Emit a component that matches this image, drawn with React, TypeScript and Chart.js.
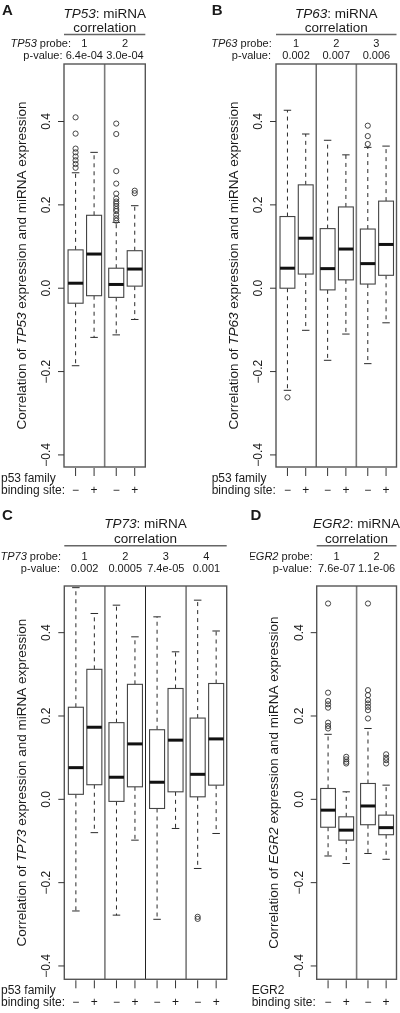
import React, { useEffect, useRef } from 'react';
import { Chart, registerables } from 'chart.js';

Chart.register(...registerables);

const FONT = '"Liberation Sans", Arial, Helvetica, sans-serif';
const TEXT = '#1a1a1a';

const sideLabels = ['\u2212', '+'];
const yTickValues = [-0.4, -0.2, 0, 0.2, 0.4];
const yTickLabels = ['\u22120.4', '\u22120.2', '0.0', '0.2', '0.4'];

// ---- Panel A: TP53 ----
const aProbes = ['1', '2'];
const aPValues = ['6.4e-04', '3.0e-04'];
const aLower = [-0.186, -0.118, -0.112, -0.075];
const aQ1 = [-0.036, -0.018, -0.022, 0.005];
const aMedian = [0.012, 0.082, 0.009, 0.046];
const aQ3 = [0.092, 0.175, 0.048, 0.09];
const aUpper = [0.277, 0.326, 0.158, 0.198];
const aOutliers = [
  [0.41, 0.371, 0.335, 0.326, 0.316, 0.307, 0.298, 0.289],
  [],
  [0.395, 0.37, 0.281, 0.251, 0.227, 0.215, 0.208, 0.203, 0.197, 0.19, 0.185, 0.176, 0.168, 0.162],
  [0.234, 0.228],
];

// ---- Panel B: TP63 ----
const bProbes = ['1', '2', '3'];
const bPValues = ['0.002', '0.007', '0.006'];
const bLower = [-0.245, -0.101, -0.173, -0.11, -0.181, -0.083];
const bQ1 = [0.0, 0.034, -0.004, 0.02, 0.01, 0.031];
const bMedian = [0.048, 0.12, 0.047, 0.094, 0.059, 0.105];
const bQ3 = [0.172, 0.248, 0.143, 0.195, 0.142, 0.209];
const bUpper = [0.427, 0.37, 0.355, 0.32, 0.338, 0.341];
const bOutliers = [[-0.262], [], [], [], [0.39, 0.365, 0.346], []];

// ---- Panel C: TP73 ----
const cProbes = ['1', '2', '3', '4'];
const cPValues = ['0.002', '0.0005', '7.4e-05', '0.001'];
const cLower = [-0.268, -0.08, -0.278, -0.098, -0.288, -0.07, -0.166, -0.082];
const cQ1 = [0.012, 0.035, -0.005, 0.03, -0.022, 0.018, 0.006, 0.034];
const cMedian = [0.076, 0.173, 0.053, 0.133, 0.041, 0.142, 0.06, 0.145];
const cQ3 = [0.221, 0.312, 0.184, 0.276, 0.167, 0.266, 0.195, 0.278];
const cUpper = [0.508, 0.446, 0.466, 0.39, 0.438, 0.354, 0.478, 0.404];
const cOutliers = [[], [], [], [], [], [], [-0.282, -0.287], []];

// ---- Panel D: EGR2 ----
const dProbes = ['1', '2'];
const dPValues = ['7.6e-07', '1.1e-06'];
const dLower = [-0.136, -0.154, -0.13, -0.144];
const dQ1 = [-0.067, -0.098, -0.061, -0.085];
const dMedian = [-0.026, -0.074, -0.016, -0.068];
const dQ3 = [0.026, -0.042, 0.038, -0.038];
const dUpper = [0.156, 0.018, 0.17, 0.034];
const dOutliers = [
  [0.47, 0.256, 0.236, 0.228, 0.22, 0.184, 0.176, 0.17],
  [0.102, 0.096, 0.09, 0.086],
  [0.47, 0.262, 0.25, 0.238, 0.23, 0.222, 0.214, 0.194],
  [0.108, 0.1, 0.094, 0.086],
];

const BOX_W = 0.37;
const boxPos = (i: number) => Math.floor(i / 2) + (i % 2 === 0 ? 0.285 : 0.74);

interface PanelCfg {
  left: number; top: number; width: number; height: number;
  pad: { left: number; right: number; top: number; bottom: number };
  yMin: number; yMax: number;
  letter: string; gene: string; siteLine1: string;
  probes: string[]; pvalues: string[];
  lower: number[]; q1: number[]; median: number[]; q3: number[]; upper: number[]; outliers: number[][];
  dividers: { color: string; width: number }[];
  letterX: number; letterY: number; titleY: number; corrY: number; lineY: number;
  probeY: number; pY: number; probeRight: number; pRight: number; siteX: number;
}

const GRAY_DIV = { color: '#7a7a7a', width: 1.6 };
const BLACK_DIV = { color: '#222', width: 1 };

const panels: PanelCfg[] = [
  {
    left: 0, top: 0, width: 200, height: 506,
    pad: { left: 64, right: 54.7, top: 64, bottom: 39 },
    yMin: -0.429, yMax: 0.538,
    letter: 'A', gene: 'TP53', siteLine1: 'p53 family',
    probes: aProbes, pvalues: aPValues,
    lower: aLower, q1: aQ1, median: aMedian, q3: aQ3, upper: aUpper, outliers: aOutliers,
    dividers: [GRAY_DIV],
    letterX: 2, letterY: 15, titleY: 18, corrY: 31.5, lineY: 34.5,
    probeY: 46.5, pY: 59, probeRight: 71, pRight: 62.5, siteX: 1,
  },
  {
    left: 200, top: 0, width: 200, height: 506,
    pad: { left: 76, right: 3.3, top: 64, bottom: 39 },
    yMin: -0.429, yMax: 0.538,
    letter: 'B', gene: 'TP63', siteLine1: 'p53 family',
    probes: bProbes, pvalues: bPValues,
    lower: bLower, q1: bQ1, median: bMedian, q3: bQ3, upper: bUpper, outliers: bOutliers,
    dividers: [BLACK_DIV, GRAY_DIV],
    letterX: 11.7, letterY: 15, titleY: 18, corrY: 31.5, lineY: 34.5,
    probeY: 46.5, pY: 59, probeRight: 71.7, pRight: 71, siteX: 11.7,
  },
  {
    left: 0, top: 506, width: 250, height: 507,
    pad: { left: 64.3, right: 23.3, top: 80, bottom: 33.7 },
    yMin: -0.432, yMax: 0.512,
    letter: 'C', gene: 'TP73', siteLine1: 'p53 family',
    probes: cProbes, pvalues: cPValues,
    lower: cLower, q1: cQ1, median: cMedian, q3: cQ3, upper: cUpper, outliers: cOutliers,
    dividers: [GRAY_DIV, BLACK_DIV, GRAY_DIV],
    letterX: 2, letterY: 14, titleY: 21.5, corrY: 36.5, lineY: 39.7,
    probeY: 54, pY: 66, probeRight: 61, pRight: 60, siteX: 1,
  },
  {
    left: 250, top: 506, width: 150, height: 507,
    pad: { left: 66.7, right: 2.7, top: 80, bottom: 33.7 },
    yMin: -0.432, yMax: 0.512,
    letter: 'D', gene: 'EGR2', siteLine1: 'EGR2',
    probes: dProbes, pvalues: dPValues,
    lower: dLower, q1: dQ1, median: dMedian, q3: dQ3, upper: dUpper, outliers: dOutliers,
    dividers: [GRAY_DIV],
    letterX: 0.5, letterY: 14, titleY: 21.5, corrY: 36.5, lineY: 39.7,
    probeY: 54, pY: 66, probeRight: 62.7, pRight: 62, siteX: 1.7,
  },
];

type Seg = { text: string; italic?: boolean };
const fontStr = (size: number, italic = false, bold = false) =>
  `${italic ? 'italic ' : ''}${bold ? 'bold ' : ''}${size}px ${FONT}`;

function drawRich(ctx: CanvasRenderingContext2D, segs: Seg[], x: number, y: number, align: 'left' | 'center' | 'right', size: number) {
  let total = 0;
  const widths = segs.map((s) => {
    ctx.font = fontStr(size, !!s.italic);
    const w = ctx.measureText(s.text).width;
    total += w;
    return w;
  });
  let cx = align === 'center' ? x - total / 2 : align === 'right' ? x - total : x;
  ctx.textAlign = 'left';
  segs.forEach((s, k) => {
    ctx.font = fontStr(size, !!s.italic);
    ctx.fillText(s.text, cx, y);
    cx += widths[k];
  });
}

function line(ctx: CanvasRenderingContext2D, x1: number, y1: number, x2: number, y2: number) {
  ctx.beginPath();
  ctx.moveTo(x1, y1);
  ctx.lineTo(x2, y2);
  ctx.stroke();
}

function boxplotPlugin(cfg: PanelCfg) {
  return {
    id: 'boxplotDraw' + cfg.letter,
    beforeDatasetsDraw(chart: any) {
      const { ctx, scales } = chart;
      const x = scales.x;
      const y = scales.y;
      ctx.save();
      for (let i = 0; i < cfg.median.length; i++) {
        const pos = boxPos(i);
        const cx = x.getPixelForValue(pos);
        const hw = x.getPixelForValue(pos + BOX_W / 2) - cx;
        const yLo = y.getPixelForValue(cfg.lower[i]);
        const yQ1 = y.getPixelForValue(cfg.q1[i]);
        const yMed = y.getPixelForValue(cfg.median[i]);
        const yQ3 = y.getPixelForValue(cfg.q3[i]);
        const yHi = y.getPixelForValue(cfg.upper[i]);
        ctx.strokeStyle = '#2a2a2a';
        ctx.lineWidth = 1;
        ctx.setLineDash([4, 4]);
        line(ctx, cx, yQ3, cx, yHi);
        line(ctx, cx, yQ1, cx, yLo);
        ctx.setLineDash([]);
        line(ctx, cx - hw / 2, yHi, cx + hw / 2, yHi);
        line(ctx, cx - hw / 2, yLo, cx + hw / 2, yLo);
        ctx.fillStyle = '#ffffff';
        ctx.fillRect(cx - hw, yQ3, 2 * hw, yQ1 - yQ3);
        ctx.strokeStyle = '#444';
        ctx.lineWidth = 1.1;
        ctx.strokeRect(cx - hw, yQ3, 2 * hw, yQ1 - yQ3);
        ctx.strokeStyle = '#111';
        ctx.lineWidth = 3;
        line(ctx, cx - hw, yMed, cx + hw, yMed);
      }
      ctx.restore();
    },
    afterDatasetsDraw(chart: any) {
      const { ctx, chartArea: ca, scales } = chart;
      const x = scales.x;
      const y = scales.y;
      ctx.save();
      // dividers
      cfg.dividers.forEach((d, k) => {
        const px = x.getPixelForValue(k + 1);
        ctx.strokeStyle = d.color;
        ctx.lineWidth = d.width;
        line(ctx, px, ca.top, px, ca.bottom);
      });
      // frame
      ctx.strokeStyle = '#555';
      ctx.lineWidth = 1.4;
      ctx.strokeRect(ca.left, ca.top, ca.right - ca.left, ca.bottom - ca.top);

      ctx.fillStyle = TEXT;
      ctx.strokeStyle = '#333';
      ctx.lineWidth = 1;
      // y ticks
      yTickValues.forEach((v, k) => {
        const py = y.getPixelForValue(v);
        line(ctx, ca.left - 6, py, ca.left, py);
        ctx.save();
        ctx.translate(ca.left - 17.5, py);
        ctx.rotate(-Math.PI / 2);
        ctx.textBaseline = 'middle';
        ctx.textAlign = 'center';
        ctx.font = fontStr(12);
        ctx.fillText(yTickLabels[k], 0, 0);
        ctx.restore();
      });
      // y title
      ctx.save();
      ctx.translate(ca.left - 42, (ca.top + ca.bottom) / 2);
      ctx.rotate(-Math.PI / 2);
      ctx.textBaseline = 'middle';
      drawRich(ctx, [
        { text: 'Correlation of ' },
        { text: cfg.gene, italic: true },
        { text: ' expression and miRNA expression' },
      ], 0, 0, 'center', 13.5);
      ctx.restore();

      // bottom ticks & labels
      ctx.textBaseline = 'alphabetic';
      for (let i = 0; i < cfg.median.length; i++) {
        const px = x.getPixelForValue(boxPos(i));
        line(ctx, px, ca.bottom + 1, px, ca.bottom + 9);
        ctx.font = fontStr(12);
        ctx.textAlign = 'center';
        ctx.fillText(sideLabels[i % 2], px, ca.bottom + 27);
      }
      ctx.font = fontStr(12);
      ctx.textAlign = 'left';
      ctx.fillText(cfg.siteLine1, cfg.siteX, ca.bottom + 15);
      ctx.fillText('binding site:', cfg.siteX, ca.bottom + 27);

      // header
      const midX = (ca.left + ca.right) / 2;
      ctx.font = fontStr(15, false, true);
      ctx.textAlign = 'left';
      ctx.fillText(cfg.letter, cfg.letterX, cfg.letterY);
      drawRich(ctx, [{ text: cfg.gene, italic: true }, { text: ': miRNA' }], midX, cfg.titleY, 'center', 13.5);
      drawRich(ctx, [{ text: 'correlation' }], midX, cfg.corrY, 'center', 13.5);
      ctx.strokeStyle = '#666';
      ctx.lineWidth = 1.4;
      line(ctx, ca.left, cfg.lineY, ca.right, cfg.lineY);
      drawRich(ctx, [{ text: cfg.gene, italic: true }, { text: ' probe:' }], cfg.probeRight, cfg.probeY, 'right', 11);
      drawRich(ctx, [{ text: 'p-value:' }], cfg.pRight, cfg.pY, 'right', 11);
      ctx.font = fontStr(11);
      ctx.textAlign = 'center';
      cfg.probes.forEach((p, g) => {
        const gx = x.getPixelForValue(g + 0.5);
        ctx.fillText(p, gx, cfg.probeY);
        ctx.fillText(cfg.pvalues[g], gx, cfg.pY);
      });
      ctx.restore();
    },
  };
}

function Panel({ cfg }: { cfg: PanelCfg }) {
  const ref = useRef<HTMLCanvasElement>(null);
  useEffect(() => {
    const canvas = ref.current;
    if (!canvas) return;
    const points = cfg.outliers.flatMap((vals, i) => vals.map((v) => ({ x: boxPos(i), y: v })));
    const chart = new Chart(canvas, {
      type: 'scatter',
      data: {
        datasets: [{
          data: points,
          pointRadius: 2.6,
          pointHoverRadius: 2.6,
          pointBorderColor: '#333',
          pointBackgroundColor: 'rgba(0,0,0,0)',
          pointBorderWidth: 0.9,
        }],
      },
      options: {
        animation: false,
        responsive: false,
        maintainAspectRatio: false,
        devicePixelRatio: 1,
        events: [],
        layout: { padding: cfg.pad },
        plugins: { legend: { display: false }, tooltip: { enabled: false }, title: { display: false } },
        scales: {
          x: { type: 'linear', min: 0, max: cfg.probes.length, display: false },
          y: { type: 'linear', min: cfg.yMin, max: cfg.yMax, display: false },
        },
      },
      plugins: [boxplotPlugin(cfg) as any],
    } as any);
    return () => chart.destroy();
  }, [cfg]);
  return (
    <canvas
      ref={ref}
      width={cfg.width}
      height={cfg.height}
      style={{ position: 'absolute', left: cfg.left, top: cfg.top, width: cfg.width, height: cfg.height }}
    />
  );
}

export default function App() {
  return (
    <div style={{ position: 'absolute', left: 0, top: 0, width: 400, height: 1013, background: '#fff', overflow: 'hidden' }}>
      {panels.map((p) => (
        <Panel key={p.letter} cfg={p} />
      ))}
    </div>
  );
}
